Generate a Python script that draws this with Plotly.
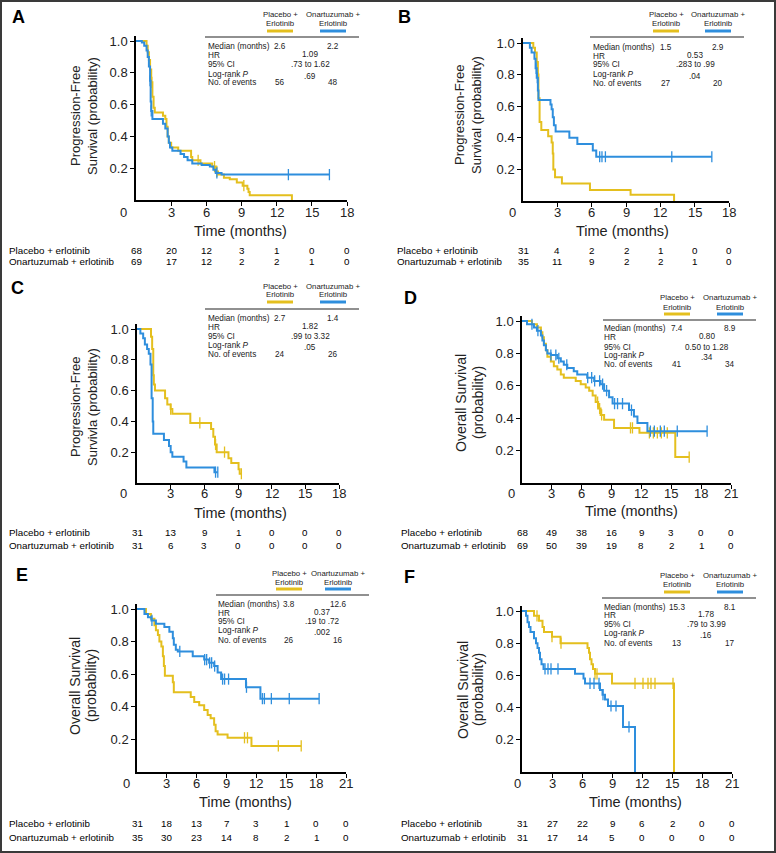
import plotly.graph_objects as go

# ---------------- DATA ----------------
# Kaplan-Meier steps: event times (months) and survival after each step; censor times; curve end
A_pla_t = [0.9, 1.0, 1.1, 1.2, 1.3, 1.4, 1.5, 1.6, 2.3, 2.5, 2.6, 2.7, 2.8, 3.0, 3.6, 4.7, 4.8, 5.5, 6.5, 6.8, 7.0, 7.5, 8.0, 8.6, 9.1, 9.5, 9.6, 9.7, 13.3]
A_pla_s = [0.97, 0.93, 0.88, 0.82, 0.74, 0.65, 0.58, 0.55, 0.53, 0.51, 0.46, 0.40, 0.36, 0.33, 0.31, 0.27, 0.25, 0.23, 0.21, 0.18, 0.16, 0.14, 0.13, 0.11, 0.09, 0.07, 0.05, 0.03, 0.0]
A_pla_c = [1.35, 5.3, 6.7, 6.9, 9.2]
A_pla_end = 13.3
A_ona_t = [0.5, 0.7, 0.9, 1.0, 1.1, 1.2, 1.25, 1.3, 1.4, 2.3, 2.5, 2.7, 2.8, 2.9, 3.1, 3.8, 4.1, 4.4, 4.8, 5.6, 6.3, 6.6, 6.8, 7.3]
A_ona_s = [0.99, 0.97, 0.94, 0.90, 0.84, 0.75, 0.62, 0.56, 0.51, 0.48, 0.45, 0.40, 0.36, 0.33, 0.31, 0.29, 0.27, 0.25, 0.23, 0.22, 0.21, 0.19, 0.17, 0.16]
A_ona_c = [1.2, 1.3, 6.9, 13.0, 16.5]
A_ona_end = 16.5

B_pla_t = [0.9, 1.05, 1.2, 1.3, 1.35, 1.45, 1.6, 2.2, 2.5, 2.6, 2.65, 2.8, 3.4, 5.85, 9.4, 13.2]
B_pla_s = [0.97, 0.94, 0.88, 0.80, 0.65, 0.50, 0.45, 0.41, 0.37, 0.30, 0.20, 0.15, 0.11, 0.07, 0.04, 0.0]
B_pla_c = []
B_pla_end = 13.2
B_ona_t = [0.6, 0.75, 1.0, 1.1, 1.2, 1.3, 1.35, 2.4, 2.5, 2.6, 2.7, 2.85, 4.05, 4.75, 6.1, 6.4]
B_ona_s = [0.97, 0.94, 0.90, 0.84, 0.78, 0.70, 0.64, 0.61, 0.58, 0.53, 0.48, 0.44, 0.40, 0.36, 0.32, 0.28]
B_ona_c = [1.15, 1.25, 6.7, 6.9, 7.2, 13.0, 16.5]
B_ona_end = 16.5

C_pla_t = [1.25, 1.35, 1.45, 1.5, 1.6, 2.5, 2.7, 3.0, 3.15, 4.75, 6.6, 6.8, 6.95, 7.1, 8.15, 8.4, 9.05, 9.15]
C_pla_s = [0.95, 0.87, 0.70, 0.64, 0.60, 0.55, 0.51, 0.48, 0.45, 0.39, 0.35, 0.30, 0.25, 0.20, 0.16, 0.13, 0.09, 0.06]
C_pla_c = [3.0, 5.6, 7.0, 7.8, 9.3]
C_pla_end = 9.3
C_ona_t = [0.3, 0.55, 0.7, 0.9, 1.05, 1.2, 1.3, 1.4, 1.45, 2.4, 2.85, 3.0, 3.15, 4.15, 4.4, 6.9]
C_ona_s = [0.97, 0.94, 0.90, 0.87, 0.84, 0.77, 0.55, 0.40, 0.32, 0.28, 0.24, 0.20, 0.17, 0.14, 0.10, 0.07]
C_ona_c = [7.0, 7.2]
C_ona_end = 7.2

D_pla_t = [1.0, 1.5, 1.9, 2.05, 2.2, 2.4, 2.55, 2.9, 3.2, 3.55, 3.9, 4.2, 5.4, 5.9, 6.4, 6.75, 7.1, 7.4, 7.65, 7.9, 8.25, 9.25, 11.8, 15.4]
D_pla_s = [0.98, 0.96, 0.93, 0.90, 0.86, 0.82, 0.78, 0.75, 0.72, 0.70, 0.67, 0.65, 0.63, 0.61, 0.59, 0.57, 0.54, 0.50, 0.46, 0.42, 0.39, 0.34, 0.31, 0.16]
D_pla_c = [7.6, 7.8, 8.0, 10.9, 11.1, 12.8, 13.2, 13.6, 14.0, 14.6, 16.8]
D_pla_end = 16.8
D_ona_t = [0.5, 1.2, 1.5, 1.9, 2.05, 2.2, 2.4, 2.55, 2.9, 3.55, 3.9, 4.2, 4.55, 5.2, 5.55, 6.55, 7.25, 7.9, 8.25, 8.75, 9.1, 10.75, 11.25, 11.6, 12.6]
D_ona_s = [0.98, 0.96, 0.94, 0.91, 0.88, 0.85, 0.82, 0.80, 0.79, 0.77, 0.75, 0.73, 0.71, 0.69, 0.67, 0.65, 0.63, 0.61, 0.57, 0.53, 0.49, 0.45, 0.41, 0.37, 0.32]
D_ona_c = [1.0, 1.6, 2.9, 3.4, 3.7, 4.5, 6.6, 7.0, 7.3, 7.8, 8.1, 8.5, 9.3, 9.6, 10.1, 11.0, 12.9, 13.3, 13.9, 14.3, 15.6, 18.6]
D_ona_end = 18.6

E_pla_t = [0.9, 1.4, 1.75, 1.9, 2.1, 2.25, 2.45, 2.6, 2.7, 2.8, 3.6, 3.7, 5.4, 5.75, 6.25, 6.75, 7.1, 7.4, 7.75, 7.9, 8.1, 9.1, 11.5]
E_pla_s = [0.97, 0.94, 0.90, 0.87, 0.84, 0.80, 0.77, 0.71, 0.65, 0.59, 0.55, 0.49, 0.46, 0.43, 0.41, 0.38, 0.35, 0.33, 0.29, 0.25, 0.23, 0.21, 0.16]
E_pla_c = [10.8, 11.1, 14.2, 16.5]
E_pla_end = 16.5
E_ona_t = [0.75, 1.1, 1.45, 1.9, 2.75, 3.25, 3.6, 3.7, 3.9, 4.1, 5.6, 6.75, 7.25, 7.75, 8.1, 8.45, 10.95, 12.4]
E_ona_s = [0.97, 0.95, 0.93, 0.91, 0.89, 0.86, 0.82, 0.78, 0.75, 0.74, 0.71, 0.69, 0.67, 0.65, 0.61, 0.57, 0.52, 0.45]
E_ona_c = [1.5, 4.3, 6.8, 7.0, 7.3, 7.5, 7.8, 8.6, 8.8, 9.2, 11.0, 12.6, 12.8, 13.5, 15.3, 18.3]
E_ona_end = 18.3

F_pla_t = [1.2, 1.7, 2.05, 2.2, 3.0, 3.85, 6.55, 6.7, 6.8, 6.95, 7.1, 7.3, 9.0, 15.2]
F_pla_s = [0.97, 0.94, 0.90, 0.87, 0.84, 0.80, 0.77, 0.74, 0.70, 0.67, 0.64, 0.61, 0.55, 0.0]
F_pla_c = [1.5, 3.0, 3.9, 7.3, 7.5, 11.3, 12.1, 12.6, 12.9, 13.3, 15.1]
F_pla_end = 15.2
F_ona_t = [0.4, 0.55, 0.7, 0.85, 1.2, 1.4, 1.55, 1.7, 1.8, 1.95, 2.15, 5.3, 6.15, 6.3, 7.8, 8.05, 8.3, 8.6, 10.1, 11.3]
F_ona_s = [0.97, 0.93, 0.90, 0.87, 0.83, 0.80, 0.77, 0.74, 0.70, 0.67, 0.64, 0.61, 0.58, 0.55, 0.51, 0.48, 0.45, 0.41, 0.28, 0.0]
F_ona_c = [2.3, 2.6, 2.9, 3.6, 6.8, 7.2, 7.7, 8.1, 8.9, 9.4, 10.7]
F_ona_end = 11.3

# Numbers at risk (at each x tick)
A_risk_pla = [68, 20, 12, 3, 1, 0, 0]
A_risk_ona = [69, 17, 12, 2, 2, 1, 0]
B_risk_pla = [31, 4, 2, 2, 1, 0, 0]
B_risk_ona = [35, 11, 9, 2, 2, 1, 0]
C_risk_pla = [31, 13, 9, 1, 0, 0, 0]
C_risk_ona = [31, 6, 3, 0, 0, 0, 0]
D_risk_pla = [68, 49, 38, 16, 9, 3, 0, 0]
D_risk_ona = [69, 50, 39, 19, 8, 2, 1, 0]
E_risk_pla = [31, 18, 13, 7, 3, 1, 0, 0]
E_risk_ona = [35, 30, 23, 14, 8, 2, 1, 0]
F_risk_pla = [31, 27, 22, 9, 6, 2, 0, 0]
F_risk_ona = [31, 17, 14, 5, 0, 0, 0, 0]

# Summary statistics: median pla, median ona, HR, 95% CI, P, events pla, events ona
A_stats = ["2.6", "2.2", "1.09", ".73 to 1.62", ".69", "56", "48"]
B_stats = ["1.5", "2.9", "0.53", ".283 to .99", ".04", "27", "20"]
C_stats = ["2.7", "1.4", "1.82", ".99 to 3.32", ".05", "24", "26"]
D_stats = ["7.4", "8.9", "0.80", "0.50 to 1.28", ".34", "41", "34"]
E_stats = ["3.8", "12.6", "0.37", ".19 to .72", ".002", "26", "16"]
F_stats = ["15.3", "8.1", "1.78", ".79 to 3.99", ".16", "13", "17"]

PANEL_LETTERS = ["A", "B", "C", "D", "E", "F"]
YTITLES = [["Progression-Free", "Survival (probability)"],
           ["Progression-Free", "Survival (probability)"],
           ["Progression-Free", "Survivla (probability)"],
           ["Overall Survival", "(probability)"],
           ["Overall Survival", "(probability)"],
           ["Overall Survival", "(probability)"]]
XMAX = [18, 18, 18, 21, 21, 21]
Y_TICKS = [0.2, 0.4, 0.6, 0.8, 1.0]
Y_TICKTEXT = ["0.2", "0.4", "0.6", "0.8", "1.0"]
STAT_LABELS = ["Median (months)", "HR", "95% CI", "Log-rank <i>P</i>", "No. of events"]
ARM_HEAD = [["Placebo +", "Erlotinib"], ["Onartuzumab +", "Erlotinib"]]
RISK_LABELS = ["Placebo + erlotinib", "Onartuzumab + erlotinib"]

CURVES = [
    (A_pla_t, A_pla_s, A_pla_c, A_pla_end, A_ona_t, A_ona_s, A_ona_c, A_ona_end),
    (B_pla_t, B_pla_s, B_pla_c, B_pla_end, B_ona_t, B_ona_s, B_ona_c, B_ona_end),
    (C_pla_t, C_pla_s, C_pla_c, C_pla_end, C_ona_t, C_ona_s, C_ona_c, C_ona_end),
    (D_pla_t, D_pla_s, D_pla_c, D_pla_end, D_ona_t, D_ona_s, D_ona_c, D_ona_end),
    (E_pla_t, E_pla_s, E_pla_c, E_pla_end, E_ona_t, E_ona_s, E_ona_c, E_ona_end),
    (F_pla_t, F_pla_s, F_pla_c, F_pla_end, F_ona_t, F_ona_s, F_ona_c, F_ona_end),
]
RISKS = [(A_risk_pla, A_risk_ona), (B_risk_pla, B_risk_ona), (C_risk_pla, C_risk_ona),
         (D_risk_pla, D_risk_ona), (E_risk_pla, E_risk_ona), (F_risk_pla, F_risk_ona)]
STATS = [A_stats, B_stats, C_stats, D_stats, E_stats, F_stats]

# ---------------- LAYOUT GEOMETRY (pixels) ----------------
W, H = 776, 853
YEL = "#E4BF1E"
BLU = "#2E8EDD"
FONT = "Liberation Sans, Arial, Helvetica, sans-serif"

GEOM = [
    dict(x0=136, x1=347, y0=200, y1=41, letter=(18, 17), yt=(75, 92), ytc=116, ytf=13, xt=(240, 231),
         org=(124, 212), rk=(250, 262), rkx=8, hd=(15, 24), ul=31, pc=280, oc=333, rule=(37, 205, 359),
         lx=207, rows=(46, 55, 64, 74, 82), mc=310),
    dict(x0=523, x1=729, y0=201, y1=43, letter=(404, 17), yt=(459, 476), ytc=115, ytf=13, xt=(622, 231),
         org=(512, 212), rk=(250, 262), rkx=396, hd=(15, 24), ul=31, pc=666, oc=718, rule=(37, 590, 744),
         lx=592, rows=(47, 56, 64, 74, 83), mc=695),
    dict(x0=137, x1=339, y0=483, y1=329, letter=(17, 288), yt=(75, 92), ytc=407, ytf=13, xt=(240, 513),
         org=(124, 493), rk=(532, 545), rkx=8, hd=(286, 294), ul=302, pc=280, oc=333, rule=(309, 205, 359),
         lx=207, rows=(318, 327, 336, 345, 354), mc=310),
    dict(x0=522, x1=731, y0=483, y1=321, letter=(410, 298), yt=(461, 478), ytc=403, ytf=14, xt=(631, 511),
         org=(511, 494), rk=(532, 545), rkx=400, hd=(298, 307), ul=314, pc=677, oc=730, rule=(320, 603, 756),
         lx=603, rows=(328, 337, 347, 355, 364), mc=707),
    dict(x0=137, x1=346, y0=772, y1=609, letter=(22, 575), yt=(75, 91), ytc=686, ytf=14, xt=(245, 802),
         org=(126, 783), rk=(823, 837), rkx=8, hd=(573, 582), ul=589, pc=289, oc=338, rule=(595, 216, 369),
         lx=217, rows=(604, 613, 621, 630, 640), mc=322),
    dict(x0=522, x1=732, y0=772, y1=611, letter=(409, 577), yt=(463, 478), ytc=690, ytf=14, xt=(635, 802),
         org=(517, 783), rk=(823, 837), rkx=400, hd=(575, 584), ul=592, pc=677, oc=730, rule=(598, 602, 756),
         lx=603, rows=(607, 615, 624, 633, 643), mc=706),
]


def px(x):
    return x / W


def py(y):
    return 1 - y / H


def step_xy(t, s, end):
    xs = [0.0] + list(t)
    ys = [1.0] + list(s)
    if end > xs[-1]:
        xs.append(end)
        ys.append(ys[-1])
    return xs, ys


def surv_at(t, s, c):
    v = 1.0
    for ti, si in zip(t, s):
        if ti <= c:
            v = si
    return v


def text(xp, yp, s, size, anchor="center", angle=0, color="#222", xref="paper"):
    return dict(x=xp, y=yp, xref=xref, yref="paper", text=s, showarrow=False, textangle=angle,
                xanchor=anchor, yanchor="middle", borderpad=0,
                font=dict(family=FONT, size=size, color=color))


fig = go.Figure()
layout = {}
ann = []
shapes = []
R = 1.03

for i, g in enumerate(GEOM):
    n = i + 1
    xk = "xaxis" if n == 1 else f"xaxis{n}"
    yk = "yaxis" if n == 1 else f"yaxis{n}"
    xr = "x" if n == 1 else f"x{n}"
    yr = "y" if n == 1 else f"y{n}"
    xmax = XMAX[i]
    top = g["y0"] - R * (g["y0"] - g["y1"])
    xt = list(range(3, xmax + 1, 3))
    axis_common = dict(ticks="outside", ticklen=4, tickwidth=1.2, tickcolor="black", showline=True,
                       linecolor="black", linewidth=1.5, showgrid=False, zeroline=False,
                       tickfont=dict(family=FONT, size=13, color="#222"))
    layout[xk] = dict(domain=[px(g["x0"]), px(g["x1"])], range=[0, xmax], anchor=yr,
                      tickvals=xt, showticklabels=False, **axis_common)
    layout[yk] = dict(domain=[py(g["y0"]), py(top)], range=[0, R], anchor=xr,
                      tickvals=Y_TICKS, ticktext=Y_TICKTEXT, **axis_common)

    pt, ps, pc_, pend, ot, os_, oc_, oend = CURVES[i]
    for (t, s, c, end, col) in [(pt, ps, pc_, pend, YEL), (ot, os_, oc_, oend, BLU)]:
        xs, ys = step_xy(t, s, end)
        fig.add_trace(go.Scatter(x=xs, y=ys, mode="lines", line=dict(color=col, width=2, shape="hv"),
                                 xaxis=xr, yaxis=yr, showlegend=False, hoverinfo="skip"))
        if c:
            fig.add_trace(go.Scatter(x=c, y=[surv_at(t, s, cc) for cc in c], mode="markers",
                                     marker=dict(symbol="line-ns-open", size=8, color=col,
                                                 line=dict(color=col, width=1.3)),
                                     xaxis=xr, yaxis=yr, showlegend=False, hoverinfo="skip"))

    ann.append(text(px(g["letter"][0]), py(g["letter"][1]), f"<b>{PANEL_LETTERS[i]}</b>", 18, color="black"))
    for k in range(2):
        ann.append(text(px(g["yt"][k]), py(g["ytc"]), YTITLES[i][k], g["ytf"], angle=-90))
    ann.append(text(px(g["xt"][0]), py(g["xt"][1]), "Time (months)", 14.5))
    # x tick labels (origin "0" sits left of the corner)
    ann.append(text(px(g["org"][0]), py(g["org"][1]), "0", 13))
    for tv in xt:
        ann.append(text(tv, py(g["org"][1]), str(tv), 13, xref=xr))
    ticks_all = list(range(0, xmax + 1, 3))
    for r, vals in enumerate(RISKS[i]):
        yy = py(g["rk"][r])
        ann.append(text(px(g["rkx"]), yy, RISK_LABELS[r], 9.8, anchor="left", color="black"))
        for tv, v in zip(ticks_all, vals):
            ann.append(text(tv, yy, str(v), 9.8, color="black", xref=xr))
    for k, cx in enumerate([g["pc"], g["oc"]]):
        for j in range(2):
            ann.append(text(px(cx), py(g["hd"][j]), ARM_HEAD[k][j], 7.8))
        col = YEL if k == 0 else BLU
        shapes.append(dict(type="line", xref="paper", yref="paper", x0=px(cx - 13), x1=px(cx + 13),
                           y0=py(g["ul"]), y1=py(g["ul"]), line=dict(color=col, width=3)))
    ry, rx0, rx1 = g["rule"]
    shapes.append(dict(type="line", xref="paper", yref="paper", x0=px(rx0), x1=px(rx1),
                       y0=py(ry), y1=py(ry), line=dict(color="#222", width=1.2)))
    st = STATS[i]
    for j, lab in enumerate(STAT_LABELS):
        ann.append(text(px(g["lx"]), py(g["rows"][j]), lab, 8.2, anchor="left"))
    vals = [(g["pc"], g["rows"][0], st[0]), (g["oc"], g["rows"][0], st[1]),
            (g["mc"], g["rows"][1] - 1, st[2]), (g["mc"], g["rows"][2], st[3]),
            (g["mc"], g["rows"][3] + 2, st[4]),
            (g["pc"], g["rows"][4], st[5]), (g["oc"], g["rows"][4], st[6])]
    for (cx, yy, tx) in vals:
        ann.append(text(px(cx), py(yy), tx, 8.2))

# outer frame
shapes.append(dict(type="rect", xref="paper", yref="paper", x0=px(1), x1=px(W - 1), y0=py(H - 1), y1=py(1),
                   line=dict(color="#3a3a3a", width=2)))

fig.update_layout(**layout)
fig.update_layout(width=W, height=H, margin=dict(l=0, r=0, t=0, b=0, autoexpand=False),
                  paper_bgcolor="white", plot_bgcolor="white", showlegend=False,
                  annotations=ann, shapes=shapes)
fig.write_html("out.html", config={"displayModeBar": False},
               post_script="document.body.style.margin='0';document.body.style.padding='0';"
                           "document.documentElement.style.overflow='hidden';")
